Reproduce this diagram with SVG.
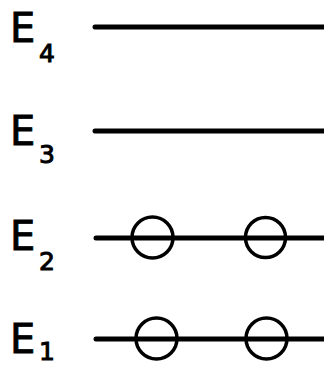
<svg xmlns="http://www.w3.org/2000/svg" width="324" height="367" viewBox="0 0 324 367">
<style>
.lbl{font-family:"DejaVu Sans","Liberation Sans",sans-serif;font-size:40px;fill:#000;stroke:#000;stroke-width:0.9}
.sub{font-family:"DejaVu Sans","Liberation Sans",sans-serif;font-size:25px;fill:#000;stroke:#000;stroke-width:1}
.lvl{stroke:#000;stroke-width:5;stroke-linecap:round;fill:none}
.el{stroke:#000;stroke-width:3.5;fill:none}
</style>
<rect width="324" height="367" fill="#fff"/>
<g id="E4">
<text class="lbl" x="10" y="42">E</text><text class="sub" x="39" y="62">4</text>
</g>
<g id="E3">
<text class="lbl" x="10" y="145">E</text><text class="sub" x="39" y="163">3</text>
</g>
<g id="E2">
<text class="lbl" x="10" y="250">E</text><text class="sub" x="39" y="270">2</text>
</g>
<g id="E1">
<text class="lbl" x="10" y="353">E</text><text class="sub" x="39" y="360">1</text>
</g>
<g id="levels">
<line class="lvl" x1="95" y1="27" x2="324" y2="27"/>
<line class="lvl" x1="95" y1="131" x2="324" y2="131"/>
<line class="lvl" x1="96" y1="238" x2="324" y2="238"/>
<line class="lvl" x1="96" y1="339" x2="324" y2="339"/>
</g>
<g id="electrons">
<circle class="el" cx="152.5" cy="237.5" r="20.5"/>
<circle class="el" cx="265.5" cy="237.5" r="20"/>
<circle class="el" cx="156.5" cy="338.5" r="20.5"/>
<circle class="el" cx="266.5" cy="338.5" r="20.5"/>
</g>
</svg>
